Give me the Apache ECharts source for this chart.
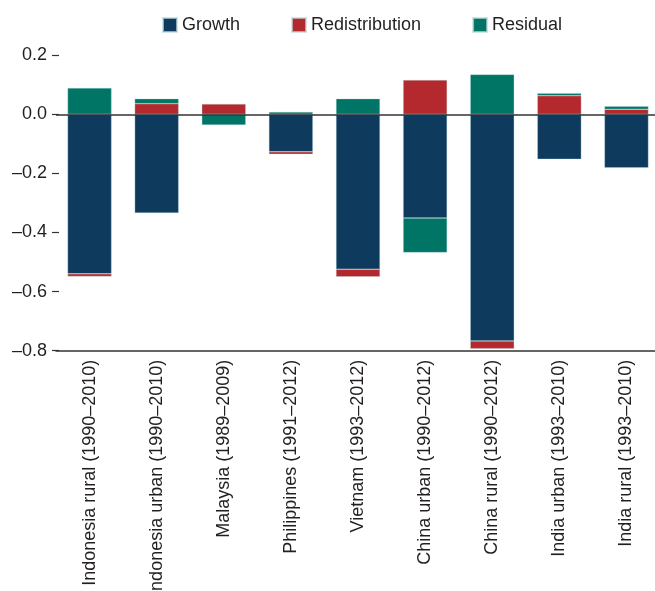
<!DOCTYPE html>
<html>
<head>
<meta charset="utf-8">
<script src="https://cdn.jsdelivr.net/npm/echarts@6/dist/echarts.min.js"></script>
<style>
  html, body { margin: 0; padding: 0; background: #fff; }
  #chart { width: 655px; height: 591px; }
</style>
</head>
<body>
<div id="chart"></div>
<script>
// Decomposition of poverty change by country/period
const categories = [
  'Indonesia rural (1990\u20132010)',
  'Indonesia urban (1990\u20132010)',
  'Malaysia (1989\u20132009)',
  'Philippines (1991\u20132012)',
  'Vietnam (1993\u20132012)',
  'China urban (1990\u20132012)',
  'China rural (1990\u20132012)',
  'India urban (1993\u20132010)',
  'India rural (1993\u20132010)'
];
const growth         = [-0.540, -0.334,  0.000, -0.127, -0.524, -0.351, -0.767, -0.152, -0.181];
const redistribution = [-0.009,  0.036,  0.035, -0.008, -0.026,  0.116, -0.026,  0.063,  0.017];
const residual       = [ 0.089,  0.017, -0.036,  0.008,  0.053, -0.117,  0.135,  0.008,  0.010];
const yTicks = [-0.8, -0.6, -0.4, -0.2, 0.0, 0.2];

const FONT = '"Liberation Sans", Arial, sans-serif';
const TEXT = '#231f20';
const outline = { borderColor: 'rgba(190,220,222,0.7)', borderWidth: 0.5 };

function bar(name, data, color, extra) {
  return Object.assign({
    name: name,
    type: 'bar',
    stack: 'total',
    data: data,
    barWidth: 44,
    itemStyle: Object.assign({ color: color }, outline)
  }, extra || {});
}

const chart = echarts.init(document.getElementById('chart'), null, { renderer: 'canvas' });
chart.setOption({
  animation: false,
  backgroundColor: '#fff',
  textStyle: { fontFamily: FONT, color: TEXT },
  legend: {
    top: 11,
    left: 157,
    itemWidth: 14,
    itemHeight: 14,
    itemGap: 51,
    icon: 'rect',
    textStyle: { fontFamily: FONT, fontSize: 18, color: TEXT },
    data: ['Growth', 'Redistribution', 'Residual']
  },
  grid: {
    left: 56, right: -5, top: 55.2, bottom: 240.3,
    containLabel: false,
    outerBoundsMode: 'none'
  },
  xAxis: {
    type: 'category',
    data: categories,
    axisLine: { onZero: false, lineStyle: { color: '#333', width: 1.5 } },
    axisTick: { show: false },
    axisLabel: {
      interval: 0,
      rotate: 90,
      margin: 9,
      fontSize: 18,
      fontFamily: FONT,
      color: TEXT
    }
  },
  yAxis: {
    type: 'value',
    min: yTicks[0],
    max: yTicks[yTicks.length - 1],
    interval: 0.2,
    offset: -3,
    axisLine: { show: false },
    axisTick: { show: true, length: 7, lineStyle: { color: '#333', width: 1.2 } },
    splitLine: { show: false },
    axisLabel: {
      margin: 12,
      fontSize: 18,
      fontFamily: FONT,
      color: TEXT,
      formatter: v => v.toFixed(1).replace('-', '\u2013')
    }
  },
  series: [
    bar('Growth', growth, '#0d3a5d', {
      markLine: {
        silent: true,
        symbol: 'none',
        label: { show: false },
        lineStyle: { color: '#333', width: 1.5, type: 'solid' },
        data: [{ yAxis: 0 }]
      }
    }),
    bar('Redistribution', redistribution, '#b3292e'),
    bar('Residual', residual, '#007566')
  ]
});
</script>
</body>
</html>
